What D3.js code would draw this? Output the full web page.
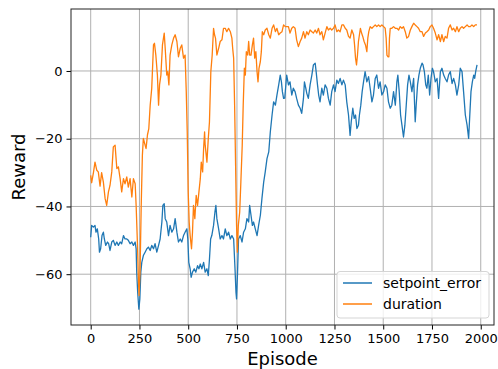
<!DOCTYPE html>
<html>
<head>
<meta charset="utf-8">
<script src="https://cdn.jsdelivr.net/npm/d3@7"></script>
<style>
  html, body { margin: 0; padding: 0; background: #fff; }
  svg { display: block; }
  text { font-family: "DejaVu Sans", sans-serif; fill: #000; }
</style>
</head>
<body>
<svg id="chart" width="498" height="369"></svg>
<script>
// Episode sample positions and rewards for each reward component
const durationEpisodes = [0,5,14,22,31,39,48,56,65,74,82,91,99,108,116,125,134,142,151,159,168,176,185,193,202,211,219,228,233,240,245,248,253,259,265,270,279,284,291,298,305,313,322,327,334,342,348,353,360,368,377,382,390,395,401,407,416,425,433,442,450,459,467,476,484,490,495,500,505,510,517,522,527,534,541,548,555,562,567,574,579,584,587,596,603,609,616,623,630,635,640,647,656,664,673,681,690,698,707,716,724,728,733,738,743,748,752,757,764,770,777,782,788,793,798,805,810,815,822,829,835,841,847,853,858,863,870,875,880,887,895,904,913,921,930,938,947,955,964,972,981,989,998,1005,1014,1022,1031,1039,1048,1056,1065,1074,1082,1091,1099,1108,1116,1125,1134,1142,1151,1159,1168,1176,1185,1193,1202,1211,1219,1228,1236,1245,1253,1262,1270,1279,1288,1296,1305,1313,1322,1330,1339,1348,1353,1358,1363,1368,1373,1378,1383,1389,1395,1402,1409,1416,1421,1426,1433,1442,1450,1459,1467,1476,1484,1493,1502,1510,1515,1519,1524,1529,1532,1536,1544,1553,1562,1570,1579,1587,1596,1604,1613,1621,1630,1639,1647,1656,1664,1673,1681,1690,1699,1707,1716,1724,1733,1741,1750,1758,1767,1776,1784,1793,1801,1810,1818,1827,1835,1844,1853,1861,1870,1878,1887,1895,1904,1912,1921,1930,1938,1946,1955,1964,1972,1981];
const durationReward = [-30.8,-33,-30,-26.9,-29.3,-29.8,-34,-30,-32.8,-37.7,-39.7,-35.7,-33.8,-29.8,-22.4,-21.9,-28.8,-28.3,-31.8,-35.7,-31.8,-33.3,-31.3,-34.3,-31.8,-37.2,-31.8,-33.3,-39.7,-51.5,-62.4,-66.3,-59.4,-39.7,-24.9,-19.9,-21.9,-22.9,-18.9,-17,-10.1,-5.1,7.7,8.2,4.7,-1.2,-10.1,-4.1,-1.2,7.7,11.2,6.7,-1.2,-0.2,-4.1,4.7,7.7,9.7,10.7,8.7,4.2,6.7,7.7,3.8,4.7,-6.1,-18,-35.7,-44.6,-48.6,-52.5,-47.6,-39.7,-43.6,-36.7,-39.7,-35.7,-31.8,-26.9,-29.8,-22.9,-18,-21.9,-26.9,-19.9,-15,-0.2,4.7,12.6,10.7,9.7,4.7,6.7,8.7,9.2,12.6,12.6,11.6,12.6,11.6,9.7,6.7,3.8,-10.1,-27.8,-45.6,-53.5,-45.6,-41.7,-32.8,-21.9,-10.1,0.8,-1.2,5.7,4.7,8.7,4.7,4.7,7.7,9.7,3.8,5.7,-0.2,-3.2,0.8,2.8,5.7,11.6,10.7,12.1,12.6,10.7,9.7,12.6,13.6,11.6,12.6,10.7,11.2,11.6,13.6,13.1,13.1,13.1,11.2,12.6,13.1,12.6,9.2,7.2,8.7,9.7,11.6,9.7,11.6,10.7,12.1,11.6,11.2,12.1,11.2,12.6,10.7,11.6,9.2,11.2,13.1,12.1,12.6,12.1,12.6,13.6,11.6,12.1,11.6,13.6,13.6,12.6,12.1,10.2,9.7,12.1,10.7,7.7,3.8,1.8,4.7,8.7,10.7,12.6,11.2,10.2,8.7,7.7,5.7,9.7,11.6,13.1,12.6,13.1,13.6,13.1,13.6,13.1,13.6,13.1,12.6,9.7,4.7,4.2,4.2,9.7,12.6,12.6,13.1,12.6,12.6,12.1,13.1,12.6,13.1,11.6,9.7,10.2,12.1,13.1,14.1,13.6,13.1,12.6,11.6,11.6,10.2,11.2,11.6,12.1,13.1,13.6,12.6,11.2,9.2,10.7,8.7,10.7,8.7,10.2,9.7,12.6,13.6,12.1,12.6,11.6,13.1,11.6,12.6,13.1,12.6,13.1,13.6,13.1,13.1,13.6,13.1,13.6,13.6];

const errorEpisodes = [0,5,14,22,27,34,41,45,51,58,65,70,77,86,92,99,108,116,125,134,142,151,159,168,176,185,193,202,211,219,228,233,236,241,247,252,257,262,270,279,288,296,305,313,322,330,339,348,356,365,370,377,382,390,399,407,416,425,433,442,450,459,467,476,484,493,498,503,510,515,522,531,539,548,555,562,570,579,587,596,603,609,615,621,630,637,642,647,656,664,673,681,690,698,707,716,724,733,740,745,748,753,758,767,776,784,793,801,810,815,822,829,835,844,853,861,870,878,887,895,904,913,921,930,938,947,955,964,972,978,983,989,995,1005,1014,1022,1031,1039,1048,1056,1065,1074,1082,1091,1096,1103,1108,1116,1125,1134,1142,1151,1156,1163,1169,1176,1185,1193,1202,1211,1219,1228,1236,1245,1253,1262,1270,1279,1288,1296,1305,1313,1322,1330,1336,1344,1351,1358,1365,1373,1378,1385,1392,1399,1407,1416,1425,1433,1442,1450,1459,1467,1476,1484,1493,1502,1510,1519,1527,1536,1544,1553,1562,1570,1575,1582,1589,1596,1604,1611,1618,1625,1632,1639,1647,1656,1664,1669,1676,1683,1690,1699,1704,1711,1718,1724,1731,1738,1745,1752,1758,1767,1776,1784,1793,1801,1810,1818,1827,1835,1844,1853,1861,1870,1878,1887,1895,1904,1912,1921,1930,1938,1943,1950,1957,1964,1969,1974,1981];
const errorReward = [-49.1,-45.6,-46.1,-45.6,-47.6,-46.6,-49.6,-53.5,-52.5,-48.6,-47.6,-49.6,-51.5,-50.5,-51,-53,-50.5,-50,-51.5,-50.5,-51.5,-50.5,-51,-48.6,-49.6,-49.6,-50,-51,-50.5,-51.5,-50.5,-52.5,-59.4,-65.4,-70.3,-67.3,-59.4,-56.5,-54.5,-53.5,-52.5,-52,-53,-51.5,-52.5,-51,-53.5,-51.5,-49.6,-44.6,-39.7,-39.2,-43.6,-44.6,-48.6,-45.6,-47.6,-46.6,-43.6,-47.6,-50.5,-49.6,-50.5,-48.6,-47.6,-46.6,-49.6,-56.5,-58.4,-60.9,-59.4,-58.4,-59.4,-57.5,-58.4,-57,-58.4,-56.5,-59.4,-58.4,-60.4,-55.5,-49.6,-48.6,-45.6,-41.7,-39.7,-43.6,-46.6,-49.6,-48.6,-49.6,-46.6,-48.6,-47.6,-49.6,-48.6,-49.6,-58.4,-65.4,-67.3,-59.4,-49.6,-48.6,-50.5,-47.6,-46.6,-43.6,-44.6,-39.7,-42.6,-45.6,-44.6,-46.6,-48.6,-45.6,-42.6,-37.7,-32.8,-29.8,-25.9,-23.9,-18,-13,-9.1,-10.1,-7.1,-4.1,-1.2,-3.2,-6.1,-8.1,-8,-1.2,-4.1,-3.2,-7.1,-5.1,-6.1,-8.1,-10.1,-11,-12.5,-8.1,-3.2,-5.1,-6.6,-8.1,-4.1,-1.2,1.8,2.3,-0.2,-4.1,-7.1,-9.1,-5.1,-7.1,-4.1,-5.1,-8.1,-10.1,-6.1,-4.1,-6.1,-2.7,-3.7,-2.2,-4.1,-2.7,-4.1,-9.1,-13,-19,-15,-11,-14,-13,-17,-16,-13,-10.1,-6.1,-3.2,-0.2,-3.2,-1.7,-5.1,-9.1,-7.1,-2.2,-1.2,-5.1,-3.2,-7.1,-6.1,-4.1,-5.1,-9.1,-11,-10.1,-6.1,-10.1,-3.2,-1.2,-6.1,-13,-16,-19.5,-16,-10.1,-4.1,-1.2,-3.2,-6.1,-2.2,-15,-10.1,-4.1,-1.2,0.8,2.3,1.8,-0.2,-4.1,-5.1,-1.2,-7.1,-2.2,0.8,-0.2,-3.2,-2.2,-8.1,-0.2,0.8,-1.2,-2.2,-3.2,-1.2,-0.2,-3.7,-2.2,-4.1,-7.1,-4.1,0.8,-0.2,-6.1,-13,-16,-19.9,-14,-6.1,-3.2,-1.2,-2.2,-0.2,1.8];

const xTicks = [0, 250, 500, 750, 1000, 1250, 1500, 1750, 2000];
const yTicks = [-60, -40, -20, 0];
const seriesNames = ["setpoint_error", "duration"];
const seriesColors = ["#1f77b4", "#ff7f0e"];

const svg = d3.select("#chart");
const margin = { top: 9, right: 4, bottom: 44, left: 71 };
const W = 498, H = 369;
const x = d3.scaleLinear().domain([-101, 2068]).range([margin.left, W - margin.right]);
const y = d3.scaleLinear().domain([-75, 18.3]).range([H - margin.bottom, margin.top]);

// grid
const grid = svg.append("g").attr("stroke", "#b0b0b0").attr("stroke-width", 1);
grid.selectAll("line.gx").data(xTicks).join("line")
  .attr("x1", d => x(d)).attr("x2", d => x(d))
  .attr("y1", margin.top).attr("y2", H - margin.bottom);
grid.selectAll("line.gy").data(yTicks).join("line")
  .attr("y1", d => y(d)).attr("y2", d => y(d))
  .attr("x1", margin.left).attr("x2", W - margin.right);

// series
const series = [
  { eps: errorEpisodes, vals: errorReward },
  { eps: durationEpisodes, vals: durationReward }
];
const line = d3.line().x(d => x(d[0])).y(d => y(d[1]));
const clip = svg.append("clipPath").attr("id", "plotclip").append("rect")
  .attr("x", margin.left).attr("y", margin.top)
  .attr("width", W - margin.left - margin.right).attr("height", H - margin.top - margin.bottom);
series.forEach((s, i) => {
  svg.append("path")
    .datum(s.eps.map((e, k) => [e, s.vals[k]]))
    .attr("clip-path", "url(#plotclip)")
    .attr("fill", "none")
    .attr("stroke", seriesColors[i])
    .attr("stroke-width", 1.3)
    .attr("stroke-linejoin", "round")
    .attr("d", line);
});

// axes
const fmt = d => (d < 0 ? "\u2212" + Math.abs(d) : String(d));
const xAxis = svg.append("g")
  .attr("transform", `translate(0,${H - margin.bottom})`)
  .call(d3.axisBottom(x).tickValues(xTicks).tickFormat(fmt).tickSizeOuter(0).tickSize(4.5).tickPadding(4));
const yAxis = svg.append("g")
  .attr("transform", `translate(${margin.left},0)`)
  .call(d3.axisLeft(y).tickValues(yTicks).tickFormat(fmt).tickSizeOuter(0).tickSize(4.5).tickPadding(4));
[xAxis, yAxis].forEach(a => {
  a.select(".domain").remove();
  a.selectAll(".tick line").attr("stroke", "#000").attr("stroke-width", 1);
  a.selectAll(".tick text").attr("font-size", 13).attr("font-family", "DejaVu Sans").attr("fill", "#000");
});

// frame
svg.append("rect")
  .attr("x", margin.left).attr("y", margin.top)
  .attr("width", W - margin.left - margin.right).attr("height", H - margin.top - margin.bottom)
  .attr("fill", "none").attr("stroke", "#222").attr("stroke-width", 1);

// axis labels
svg.append("text").attr("x", (margin.left + W - margin.right) / 2).attr("y", 365)
  .attr("text-anchor", "middle").attr("font-size", 18).text("Episode");
svg.append("text")
  .attr("transform", `translate(25,${(margin.top + H - margin.bottom) / 2}) rotate(-90)`)
  .attr("text-anchor", "middle").attr("font-size", 18).text("Reward");

// legend
const lg = svg.append("g");
lg.append("rect").attr("x", 337).attr("y", 271.5).attr("width", 152).attr("height", 46.5)
  .attr("rx", 3).attr("fill", "#fff").attr("fill-opacity", 0.8)
  .attr("stroke", "#d5d5d5").attr("stroke-width", 1);
seriesNames.forEach((name, i) => {
  const cy = 283 + i * 21;
  lg.append("line").attr("x1", 343).attr("x2", 372).attr("y1", cy).attr("y2", cy)
    .attr("stroke", seriesColors[i]).attr("stroke-width", 1.5);
  lg.append("text").attr("x", 383).attr("y", cy + 5).attr("font-size", 14).text(name);
});
</script>
</body>
</html>
